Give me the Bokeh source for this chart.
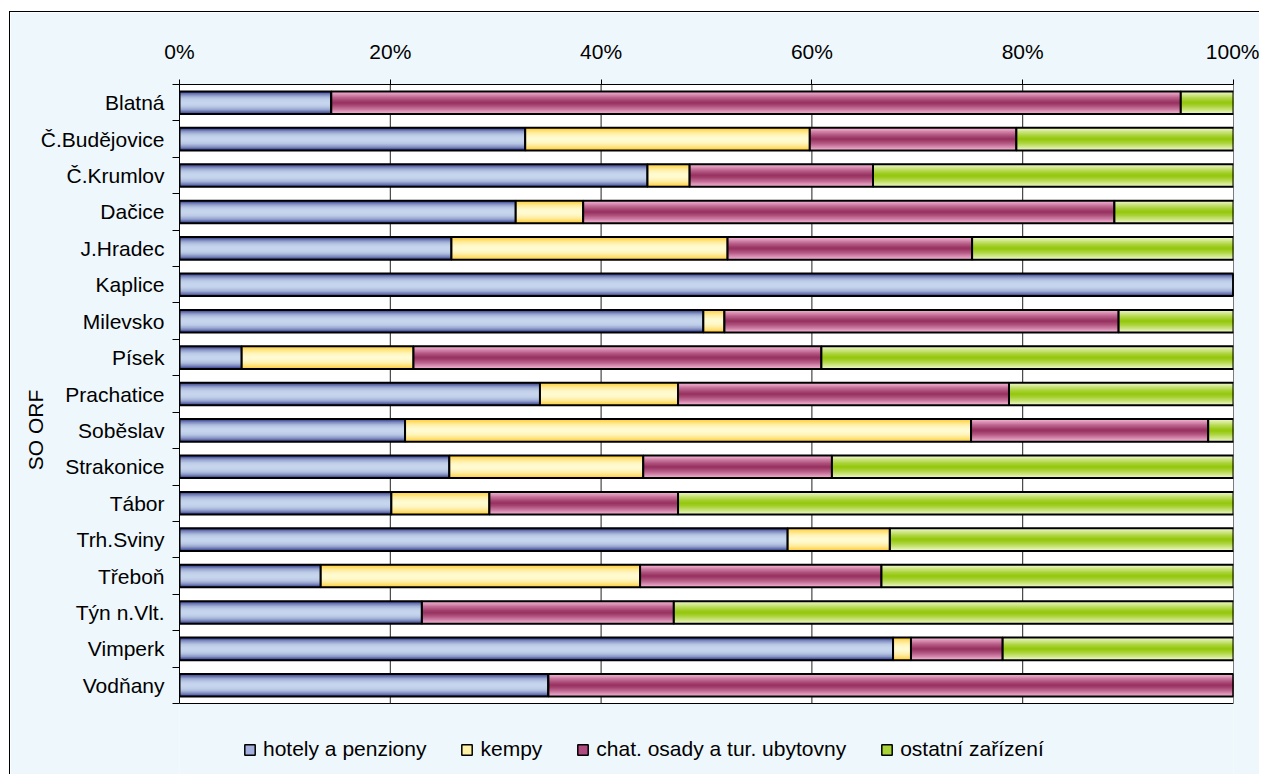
import numpy as np
from bokeh.plotting import figure
from bokeh.models import Range1d, FixedTicker, PrintfTickFormatter, Legend, LegendItem
from bokeh.embed import file_html
from bokeh.resources import INLINE

# ---------------- data ----------------
categories = ["Blatná", "Č.Budějovice", "Č.Krumlov", "Dačice", "J.Hradec", "Kaplice",
              "Milevsko", "Písek", "Prachatice", "Soběslav", "Strakonice", "Tábor",
              "Trh.Sviny", "Třeboň", "Týn n.Vlt.", "Vimperk", "Vodňany"]
hotely = [14.4, 32.8, 44.4, 31.9, 25.8, 100.0, 49.7, 5.9, 34.2, 21.4, 25.6, 20.1, 57.7, 13.4, 23.0, 67.7, 35.0]
kempy = [0.0, 27.0, 4.0, 6.4, 26.2, 0.0, 2.0, 16.3, 13.1, 53.7, 18.4, 9.3, 9.7, 30.3, 0.0, 1.7, 0.0]
chat = [80.6, 19.6, 17.4, 50.4, 23.2, 0.0, 37.4, 38.7, 31.4, 22.5, 17.9, 17.9, 0.0, 22.9, 23.9, 8.7, 65.0]
ostatni = [5.0, 20.6, 34.2, 11.3, 24.8, 0.0, 10.9, 39.1, 21.3, 2.4, 38.1, 52.7, 32.6, 33.4, 53.1, 21.9, 0.0]
series_names = ["hotely a penziony", "kempy", "chat. osady a tur. ubytovny", "ostatní zařízení"]
x_ticks = [0, 20, 40, 60, 80, 100]
axis_title = "SO ORF"

FONT = "Liberation Sans"

# ---------------- styles ----------------
# (edge colour, centre colour, profile exponent, legend colour)
styles = [
    ("#2f3789", "#c6d5ed", 2.6, "#a3b0de"),
    ("#ffcc33", "#fffbd2", 2.0, "#fff2a6"),
    ("#f6b6d6", "#96305e", 1.3, "#b04c80"),
    ("#f0f9cc", "#93c60a", 1.3, "#a8d438"),
]


def h2r(h):
    h = h.lstrip("#")
    return np.array([int(h[i:i + 2], 16) for i in (0, 2, 4)], dtype=float)


def r2h(c):
    c = np.clip(np.round(c), 0, 255).astype(int)
    return "#%02x%02x%02x" % tuple(c)


n_cat = len(categories)
ys = np.arange(n_cat) + 0.5
bar_h = 0.62
n_layers = 14

# layout (pixels): canvas placed at x=10, y=12 by CSS margin+border
FIG_W, FIG_H = 1250, 763
BORDER_L, BORDER_T, BORDER_R = 169, 72, 27
DATA_PX = 619.0                      # height of the category area
FRAME_PX = FIG_H - BORDER_T          # frame reaches to the bottom (room for legend)
y_start = n_cat * FRAME_PX / DATA_PX

p = figure(width=FIG_W, height=FIG_H, output_backend="svg", toolbar_location=None,
           x_range=Range1d(0, 100), y_range=Range1d(y_start, 0),
           x_axis_location="above",
           min_border_left=BORDER_L, min_border_right=BORDER_R,
           min_border_top=BORDER_T, min_border_bottom=0)
p.border_fill_color = "#eef7fc"
p.background_fill_color = "#eef7fc"
p.outline_line_color = None
p.styles = {"margin-left": "9px", "margin-top": "11px",
            "border-left": "1px solid black", "border-top": "1px solid black"}

# grid handled manually (only across the category area)
p.xgrid.visible = False
p.ygrid.visible = False

# plot area (white, black outline)
p.quad(left=[x_ticks[0]], right=[x_ticks[-1]], top=[0], bottom=[n_cat],
       fill_color="white", line_color="black", line_width=1)
p.segment(x0=x_ticks[1:-1], x1=x_ticks[1:-1], y0=[0] * 4, y1=[n_cat] * 4,
          line_color="#222222", line_width=1)

# x axis (top)
xa = p.xaxis[0]
xa.ticker = FixedTicker(ticks=x_ticks)
xa.formatter = PrintfTickFormatter(format="%d%%")
xa.major_tick_out = 5
xa.major_tick_in = 0
xa.minor_tick_out = 0
xa.minor_tick_in = 0
xa.axis_line_color = "black"
xa.major_tick_line_color = "black"
xa.major_label_text_font = FONT
xa.major_label_text_font_size = "21px"
xa.major_label_text_color = "black"
xa.major_label_standoff = 17

# y axis (left)
ya = p.yaxis[0]
ya.bounds = (0, n_cat)
ya.ticker = FixedTicker(ticks=list(ys), minor_ticks=list(range(n_cat + 1)))
ya.major_label_overrides = {float(y): c for y, c in zip(ys, categories)}
ya.major_tick_out = 0
ya.major_tick_in = 0
ya.minor_tick_out = 7
ya.minor_tick_in = 0
ya.minor_tick_line_color = "black"
ya.axis_line_color = "black"
ya.major_label_text_font = FONT
ya.major_label_text_font_size = "21px"
ya.major_label_text_color = "black"
ya.major_label_standoff = 8
ya.axis_label = axis_title
ya.axis_label_text_font = FONT
ya.axis_label_text_font_size = "21px"
ya.axis_label_text_font_style = "normal"
ya.axis_label_text_color = "black"
ya.axis_label_standoff = -9

# stacked bars with vertical gradient (concentric layers, outermost first)
data = [hotely, kempy, chat, ostatni]
left = np.zeros(n_cat)
legend_items = []
for vals, name, (edge, center, ex, lcol) in zip(data, series_names, styles):
    vals = np.array(vals, dtype=float)
    right = left + vals
    ce, cc = h2r(edge), h2r(center)
    for j in range(n_layers):
        t = 1.0 - j / n_layers
        col = r2h(cc + (ce - cc) * t ** ex)
        p.hbar(y=ys, left=left, right=right, height=bar_h * t,
               fill_color=col, line_color=None)
    p.hbar(y=ys, left=left, right=right, height=bar_h,
           fill_color=None, line_color="black", line_width=2)
    key = p.hbar(y=ys[:1], left=left[:1], right=right[:1], height=bar_h,
                 fill_color=lcol, line_color="black", line_width=1.5, visible=False)
    legend_items.append(LegendItem(label=name, renderers=[key]))
    left = right

legend = Legend(items=legend_items, orientation="horizontal", location=(64, 14),
                glyph_width=13, glyph_height=13, label_standoff=7, spacing=34,
                padding=0, margin=0, border_line_color=None, background_fill_alpha=0,
                label_text_font=FONT, label_text_font_size="21px", label_text_color="black")
p.add_layout(legend)

open("out.html", "w").write(file_html(p, INLINE))
